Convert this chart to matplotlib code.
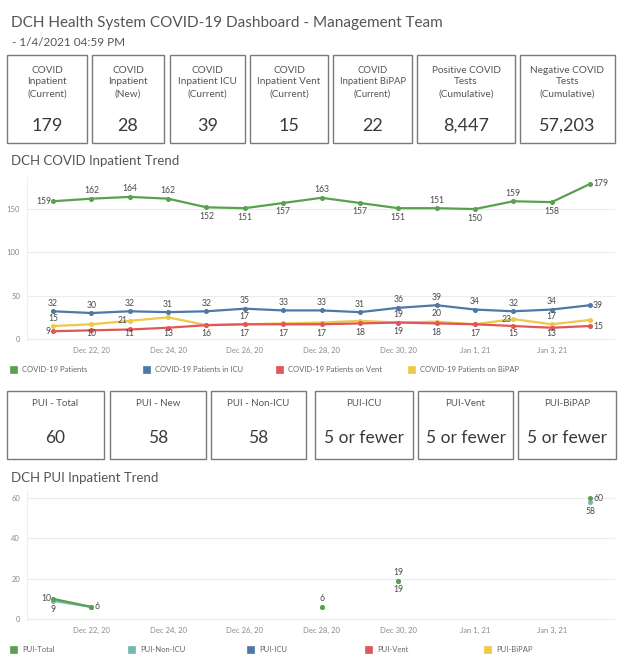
import matplotlib
matplotlib.use("Agg")
import matplotlib.pyplot as plt
import matplotlib.dates as mdates
from matplotlib.patches import Rectangle
import numpy as np
import pandas as pd

# ---------------- data ----------------
title = "DCH Health System COVID-19 Dashboard - Management Team"
subtitle = "- 1/4/2021 04:59 PM"

kpi_labels = ["COVID\nInpatient\n(Current)", "COVID\nInpatient\n(New)",
              "COVID\nInpatient ICU\n(Current)", "COVID\nInpatient Vent\n(Current)",
              "COVID\nInpatient BiPAP\n(Current)", "Positive COVID\nTests\n(Cumulative)",
              "Negative COVID\nTests\n(Cumulative)"]
kpi_values = ["179", "28", "39", "15", "22", "8,447", "57,203"]

pui_labels = ["PUI - Total", "PUI - New", "PUI - Non-ICU", "PUI-ICU", "PUI-Vent", "PUI-BiPAP"]
pui_values = ["60", "58", "58", "5 or fewer", "5 or fewer", "5 or fewer"]

dates = pd.to_datetime(["2020-12-21", "2020-12-22", "2020-12-23", "2020-12-24", "2020-12-25",
                        "2020-12-26", "2020-12-27", "2020-12-28", "2020-12-29", "2020-12-30",
                        "2020-12-31", "2021-01-01", "2021-01-02", "2021-01-03", "2021-01-04"])

covid_patients = [159, 162, 164, 162, 152, 151, 157, 163, 157, 151, 151, 150, 159, 158, 179]
covid_icu = [32, 30, 32, 31, 32, 35, 33, 33, 31, 36, 39, 34, 32, 34, 39]
covid_vent = [9, 10, 11, 13, 16, 17, 17, 17, 18, 19, 18, 17, 15, 13, 15]
covid_bipap = [15, 17, 21, 25, 16, 17, 18, 19, 21, 19, 20, 17, 23, 17, 22]

nan = np.nan
pui_total = [10, 6, nan, nan, nan, nan, nan, 6, nan, 19, nan, nan, nan, nan, 60]
pui_nonicu = [9, 6, nan, nan, nan, nan, nan, 6, nan, 19, nan, nan, nan, nan, 58]
pui_icu = [nan] * 15
pui_vent = [nan] * 15
pui_bipap = [nan] * 15

tick_dates = pd.to_datetime(["2020-12-22", "2020-12-24", "2020-12-26", "2020-12-28",
                             "2020-12-30", "2021-01-01", "2021-01-03"])
tick_labels = ["Dec 22, 20", "Dec 24, 20", "Dec 26, 20", "Dec 28, 20",
               "Dec 30, 20", "Jan 1, 21", "Jan 3, 21"]

top_names = ["COVID-19 Patients", "COVID-19 Patients in ICU",
             "COVID-19 Patients on Vent", "COVID-19 Patients on BiPAP"]
pui_names = ["PUI-Total", "PUI-Non-ICU", "PUI-ICU", "PUI-Vent", "PUI-BiPAP"]

# ---------------- style / layout ----------------
GREEN, BLUE, RED, YELLOW, TEAL = "#59a14f", "#4e79a7", "#e15759", "#edc948", "#76b7b2"
FONT = "Lato"
plt.rcParams["font.family"] = [FONT, "DejaVu Sans"]

W, H = 624, 666
fig = plt.figure(figsize=(W / 100, H / 100), dpi=100)
fig.patch.set_facecolor("white")


def fx(x):
    return x / W


def fy(y):
    return 1 - y / H


fig.text(fx(11), fy(23), title, fontsize=11, color="#555555", va="center", ha="left")
fig.text(fx(12), fy(42), subtitle, fontsize=8.5, color="#555555", va="center", ha="left")

kpi_x = [(7, 87), (92, 164), (170, 245), (250, 328), (333, 412), (417, 515), (520, 615)]
for (x0, x1), lab, val in zip(kpi_x, kpi_labels, kpi_values):
    fig.add_artist(Rectangle((fx(x0), fy(143)), fx(x1 - x0), (143 - 55) / H,
                             transform=fig.transFigure, fill=False, ec="#7a7a7a", lw=1.0))
    fs = 6.8 if "BiPAP" in lab else 7.2
    fig.text(fx((x0 + x1) / 2), fy(82), lab, fontsize=fs, color="#555555",
             ha="center", va="center", linespacing=1.4)
    fig.text(fx((x0 + x1) / 2), fy(126), val, fontsize=13, color="#3a3a3a",
             ha="center", va="center")

pui_x = [(7, 104), (110, 206), (211, 306), (315, 413), (418, 513), (518, 616)]
for (x0, x1), lab, val in zip(pui_x, pui_labels, pui_values):
    fig.add_artist(Rectangle((fx(x0), fy(459)), fx(x1 - x0), (459 - 391) / H,
                             transform=fig.transFigure, fill=False, ec="#7a7a7a", lw=1.0))
    fig.text(fx((x0 + x1) / 2), fy(404), lab, fontsize=7, color="#555555",
             ha="center", va="center")
    fig.text(fx((x0 + x1) / 2), fy(438), val, fontsize=12.5, color="#3a3a3a",
             ha="center", va="center")

fig.text(fx(11), fy(161), "DCH COVID Inpatient Trend", fontsize=9.5, color="#555555",
         va="center", ha="left")
fig.text(fx(11), fy(478), "DCH PUI Inpatient Trend", fontsize=9.5, color="#555555",
         va="center", ha="left")

d0 = mdates.date2num(dates[0])
xlim = (d0 - 0.678, d0 + 14.65)


def setup_axis(ax, yticks, ylim):
    ax.set_xlim(*xlim)
    ax.set_ylim(*ylim)
    ax.set_yticks(yticks)
    ax.set_yticklabels([str(t) for t in yticks])
    ax.set_xticks(mdates.date2num(tick_dates))
    ax.set_xticklabels(tick_labels)
    ax.tick_params(length=0, labelsize=5.5, labelcolor="#8a8a8a", pad=4)
    ax.tick_params(axis="y", pad=5)
    for s in ["top", "right", "bottom"]:
        ax.spines[s].set_visible(False)
    ax.spines["left"].set_color("#f0f0f0")
    ax.grid(axis="y", color="#ececec", lw=0.8)
    ax.set_axisbelow(True)


# top chart: 177..341 px
ax1 = fig.add_axes([fx(27), fy(341), fx(615 - 27), (341 - 177) / H])
setup_axis(ax1, [0, 50, 100, 150], (-2.3, 187))

# bottom chart: 490..621 px
ax2 = fig.add_axes([fx(27), fy(621), fx(615 - 27), (621 - 490) / H])
setup_axis(ax2, [0, 20, 40, 60], (-1, 64))

xs = mdates.date2num(dates)


def plot_series(ax, ys, color, lw=1.6, ms=2.6):
    ax.plot(xs, ys, color=color, lw=lw, marker="o", ms=ms, mec=color, mfc=color, zorder=3)


def add_labels(ax, ys, pos, min_px=None):
    for x, v, p in zip(xs, ys, pos):
        if p is None or (isinstance(v, float) and np.isnan(v)):
            continue
        px, py = ax.transData.transform((x, v))
        ha = "center"
        if p == "above":
            py += 8
        elif p == "below":
            py -= 9
            if min_px is not None:
                zero_py = ax.transData.transform((x, 0))[1]
                py = max(py, zero_py + min_px)
        elif p == "left":
            px -= 2
            ha = "right"
        elif p == "right":
            px += 3
            ha = "left"
        tx, ty = ax.transData.inverted().transform((px, py))
        ax.text(tx, ty, str(int(v)), fontsize=6.2, color="#4a4a4a", ha=ha, va="center", zorder=5)


plot_series(ax1, covid_bipap, YELLOW)
plot_series(ax1, covid_vent, RED)
plot_series(ax1, covid_icu, BLUE)
plot_series(ax1, covid_patients, GREEN)

green_pos = ["left", "above", "above", "above", "below", "below", "below", "above",
             "below", "below", "above", "below", "above", "below", "right"]
blue_pos = ["above"] * 14 + ["right"]
red_pos = ["left"] + ["below"] * 13 + ["right"]
yellow_pos = ["above", None, "left", None, None, "above", None, None, None, "above",
              "above", None, "left", "above", None]

add_labels(ax1, covid_patients, green_pos)
add_labels(ax1, covid_icu, blue_pos)
add_labels(ax1, covid_vent, red_pos, min_px=6)
add_labels(ax1, covid_bipap, yellow_pos)

plot_series(ax2, pui_icu, BLUE)
plot_series(ax2, pui_vent, RED)
plot_series(ax2, pui_bipap, YELLOW)
plot_series(ax2, pui_nonicu, TEAL)
plot_series(ax2, pui_total, GREEN)

total_pos = ["left", "right", None, None, None, None, None, "above", None, "above",
             None, None, None, None, "right"]
nonicu_pos = ["below", None, None, None, None, None, None, None, None, "below",
              None, None, None, None, "below"]
add_labels(ax2, pui_total, total_pos)
add_labels(ax2, pui_nonicu, nonicu_pos)

# legends
top_colors = [GREEN, BLUE, RED, YELLOW]
top_leg_x = [10, 143, 276, 408]
for name, c, x in zip(top_names, top_colors, top_leg_x):
    fig.add_artist(Rectangle((fx(x), fy(372.5)), fx(7), 7 / H, transform=fig.transFigure,
                             fc=c, ec=c, lw=0.5))
    fig.text(fx(x + 12), fy(369), name, fontsize=5.5, color="#666666", va="center", ha="left")

pui_colors = [GREEN, TEAL, BLUE, RED, YELLOW]
pui_leg_x = [10, 128, 247, 365, 484]
for name, c, x in zip(pui_names, pui_colors, pui_leg_x):
    fig.add_artist(Rectangle((fx(x), fy(652.5)), fx(7), 7 / H, transform=fig.transFigure,
                             fc=c, ec=c, lw=0.5))
    fig.text(fx(x + 12), fy(649), name, fontsize=5.5, color="#666666", va="center", ha="left")

fig.savefig("out.png", dpi=100, facecolor="white")
